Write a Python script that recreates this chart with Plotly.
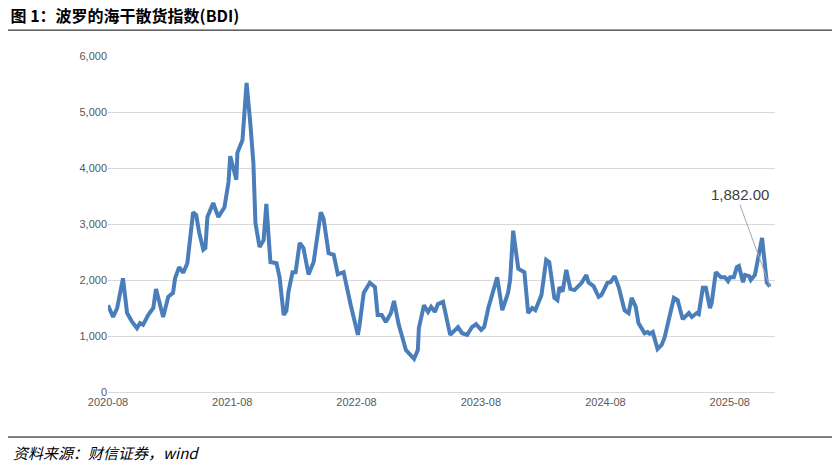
import datetime as dt
import plotly.graph_objects as go

start = dt.date(2020, 8, 1)
day_offsets = [0, 15, 27, 44, 56, 71, 85, 94, 103, 118, 133, 141, 162, 177, 191, 197, 209, 221, 233,
               250, 259, 268, 280, 286, 292, 309, 324, 342, 354, 359, 377, 380, 395, 407, 418, 427,
               433, 445, 457, 465, 477, 495, 504, 516, 524, 530, 542, 551, 563, 574, 589, 604, 625,
               633, 648, 663, 675, 692, 713, 734, 739, 751, 769, 784, 792, 804, 816, 831, 840, 854,
               875, 899, 910, 913, 928, 940, 949, 960, 969, 984, 1005, 1028, 1040, 1055, 1069, 1081,
               1096, 1105, 1117, 1143, 1158, 1175, 1181, 1190, 1205, 1223, 1234, 1246, 1255, 1273,
               1287, 1296, 1311, 1320, 1326, 1335, 1346, 1358, 1370, 1391, 1405, 1411, 1426, 1441,
               1449, 1467, 1476, 1488, 1500, 1517, 1529, 1538, 1550, 1558, 1576, 1585, 1591, 1600,
               1614, 1626, 1635, 1662, 1673, 1688, 1706, 1715, 1729, 1735, 1747, 1756, 1768, 1773,
               1785, 1800, 1812, 1821, 1827, 1838, 1847, 1853, 1865, 1871, 1883, 1888, 1900, 1921,
               1935, 1944]
bdi = [1550, 1340, 1500, 2030, 1410, 1250, 1140, 1230, 1200, 1375, 1500, 1840, 1340, 1700, 1770, 2030,
       2230, 2130, 2300, 3210, 3160, 2840, 2540, 2570, 3125, 3375, 3125, 3300, 3750, 4210, 3790, 4270,
       4500, 5520, 4800, 4090, 3020, 2590, 2710, 3360, 2320, 2300, 2050, 1375, 1450, 1790, 2140, 2140,
       2660, 2570, 2100, 2320, 3210, 3100, 2480, 2450, 2100, 2140, 1550, 1020, 1200, 1770, 1950, 1875,
       1375, 1375, 1250, 1410, 1625, 1200, 750, 590, 750, 1140, 1550, 1430, 1520, 1430, 1570, 1610,
       1020, 1160, 1050, 1020, 1160, 1210, 1110, 1160, 1500, 2050, 1460, 1770, 2000, 2880, 2200, 2140,
       1410, 1500, 1460, 1730, 2360, 2320, 1680, 1640, 1875, 1790, 2180, 1840, 1820, 1950, 2090, 1960,
       1890, 1700, 1730, 1950, 1960, 2070, 1875, 1460, 1410, 1680, 1520, 1230, 1050, 1070, 1040, 1070,
       770, 840, 980, 1680, 1640, 1300, 1410, 1340, 1410, 1390, 1860, 1860, 1500, 1590, 2140, 2050,
       2050, 1980, 2050, 2050, 2230, 2250, 1960, 2090, 2070, 2000, 2090, 2750, 1950, 1882]
dates = [start + dt.timedelta(days=d) for d in day_offsets]
tick_dates = [dt.date(y, 8, 1) for y in range(2020, 2026)]
tick_text = [d.strftime("%Y-%m") for d in tick_dates]

fig = go.Figure()
fig.add_trace(go.Scatter(x=dates, y=bdi, mode="lines", cliponaxis=False,
                         line=dict(color="#4a7ebb", width=4), hoverinfo="x+y"))

fig.add_annotation(x=dates[-1], y=bdi[-1], text=f"{bdi[-1]:,.2f}", showarrow=True,
                   arrowhead=0, arrowcolor="#a6a6a6", arrowwidth=1, ax=-30, ay=-82,
                   font=dict(size=15, color="#404040", family="Liberation Sans"), yanchor="bottom")

fig.update_layout(
    width=840, height=466,
    margin=dict(l=100, r=73, t=48, b=82),
    plot_bgcolor="white", paper_bgcolor="white",
    showlegend=False,
    font=dict(family="Liberation Sans", color="#595959", size=11),
    title=dict(text="<b>图 1：波罗的海干散货指数(BDI)</b>", x=0.003, y=0.995, xanchor="left",
               yanchor="top", font=dict(size=16, color="#000", family="Noto Sans CJK SC")),
    xaxis=dict(type="date", range=[dt.date(2020, 8, 1), dt.date(2025, 12, 12)],
               tickvals=tick_dates, ticktext=tick_text, showgrid=False, showline=True,
               linecolor="#d9d9d9", ticks="", tickfont=dict(size=11, color="#595959")),
    yaxis=dict(range=[0, 6000], dtick=1000, tickformat=",", gridcolor="#d9d9d9",
               zeroline=False, ticks="", tickfont=dict(size=11, color="#595959")),
    shapes=[
        dict(type="line", xref="paper", yref="paper", x0=-0.16, x1=1.1, y0=1.077, y1=1.077,
             line=dict(color="#000", width=1)),
        dict(type="line", xref="paper", yref="paper", x0=-0.16, x1=1.1, y0=-0.134, y1=-0.134,
             line=dict(color="#000", width=1)),
    ],
)
fig.add_annotation(xref="paper", yref="paper", x=-0.145, y=-0.142, xanchor="left", yanchor="top",
                   text="<i>资料来源：财信证券，wind</i>", showarrow=False,
                   font=dict(size=15, color="#000", family="Noto Sans CJK SC"))

fig.write_html("out.html")
